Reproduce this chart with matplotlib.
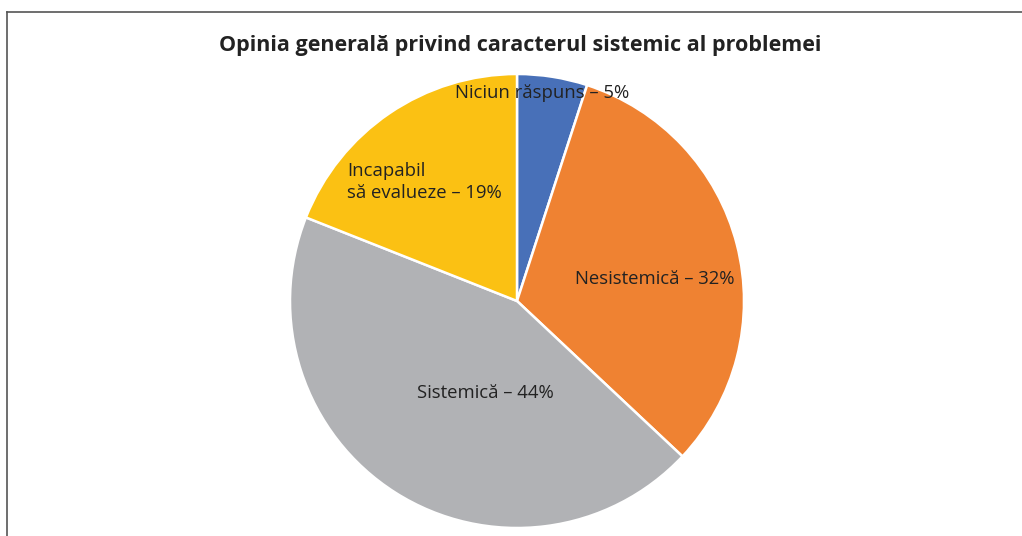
import matplotlib
matplotlib.use("Agg")
import matplotlib.pyplot as plt
from matplotlib.lines import Line2D

# date
categorii = ["Niciun răspuns", "Nesistemică", "Sistemică", "Incapabil\nsă evalueze"]
procente = [5, 32, 44, 19]
culori = ["#4870B8", "#EF8232", "#B1B2B5", "#FBC113"]
titlu = "Opinia generală privind caracterul sistemic al problemei"

plt.rcParams['font.family'] = ['Open Sans', 'DejaVu Sans']

W, H = 1022, 536
fig = plt.figure(figsize=(W/100, H/100), dpi=100)
ax = fig.add_axes([0, 0, 1, 1])

# pie, centru si raza in pixeli
cx, cy, r = 517, H-301, 227
wedges, _ = ax.pie(procente, colors=culori, startangle=90, counterclock=False,
                   center=(cx, cy), radius=r, frame=True,
                   wedgeprops=dict(edgecolor='white', linewidth=1.8))
ax.set_xlim(0, W)
ax.set_ylim(0, H)
ax.set_aspect('equal')
ax.axis('off')

# etichete
etichete = [f"{c} – {p}%" for c, p in zip(categorii, procente)]
fs = 13.3
ax.text(542, H-93, etichete[0], ha='center', va='center', fontsize=fs, color='#222222')
ax.text(655, H-279, etichete[1], ha='center', va='center', fontsize=fs, color='#222222')
ax.text(485, H-393, etichete[2], ha='center', va='center', fontsize=fs, color='#222222')
ax.text(347, H-182, etichete[3], ha='left', va='center', fontsize=fs, color='#222222',
        linespacing=1.25)

ax.text(520, H-46, titlu, ha='center', va='center', fontsize=15.5, fontweight='bold',
        color='#222222')

# chenar (sus si stanga)
fig.add_artist(Line2D([7/W, 1], [1-12/H, 1-12/H], transform=fig.transFigure,
                      color='#555555', linewidth=1.2))
fig.add_artist(Line2D([7/W, 7/W], [0, 1-12/H], transform=fig.transFigure,
                      color='#555555', linewidth=1.2))

fig.savefig("out.png", dpi=100)
